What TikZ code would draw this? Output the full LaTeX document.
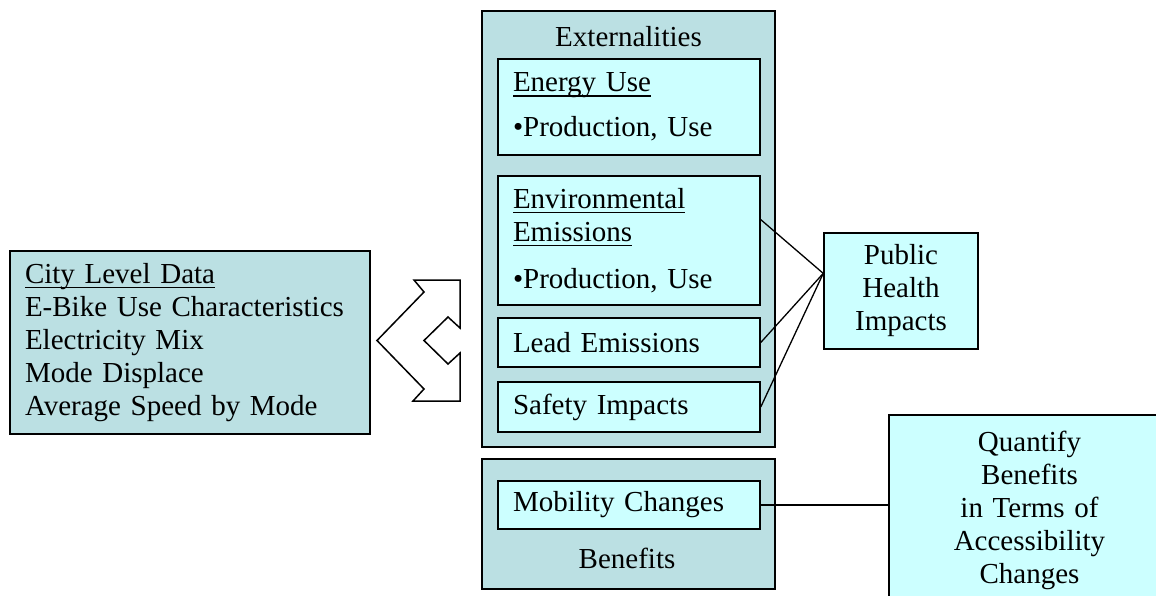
\documentclass[tikz,border=0pt]{standalone}
\usepackage{fontspec}
\setmainfont{Liberation Serif}
\usetikzlibrary{calc}
\definecolor{outerfill}{RGB}{187,224,227}
\definecolor{innerfill}{RGB}{204,255,255}
\newcommand{\ulabel}[1]{\leavevmode\setbox0\hbox{#1}\rlap{\rule[-5pt]{\wd0}{1.8pt}}\box0}

\begin{document}
\begin{tikzpicture}[x=1pt,y=-1pt,
    every node/.style={font=\fontsize{29}{33}\selectfont},
    outerbox/.style={draw=black,line width=1.5pt,fill=outerfill,inner sep=0pt},
    innerbox/.style={draw=black,line width=1.5pt,fill=innerfill,align=left,
        inner xsep=15pt,inner ysep=0pt,text width=232pt},
    link/.style={draw=black,line width=1.3pt}]
        \useasboundingbox (0,0) rectangle (1156,595);
        \clip (0,0) rectangle (1156,595);

        % input data
        \node[outerbox,align=left,inner xsep=15pt,text width=330pt,minimum height=183pt] (city) at (190,342.5)
            {\ulabel{City Level Data}\\E-Bike Use Characteristics\\Electricity Mix\\Mode Displace\\Average Speed by Mode};

        % double arrow
        \draw[line width=1.5pt,fill=white,line join=miter] (414,280) -- (460,280) -- (460,328) -- (448,317)
            -- (424,340.5) -- (448,364) -- (460,353) -- (460,401) -- (413,401) -- (424,389)
            -- (377,340.5) -- (424,292) -- cycle;

        % externalities
        \node[outerbox,minimum width=293pt,minimum height=436pt] (ext) at (628.5,229) {};
        \node (exttitle) at (628.5,37) {Externalities};
        \node[innerbox,minimum height=96pt] (energy) at (629,107)
            {\ulabel{Energy Use}\\[12pt]\textbullet Production, Use};
        \node[innerbox,minimum height=129pt] (env) at (629,240.5)
            {\ulabel{Environmental}\\\ulabel{Emissions}\\[14pt]\textbullet Production, Use};
        \node[innerbox,minimum height=49pt] (lead) at (629,342.5) {Lead Emissions};
        \node[innerbox,minimum height=50pt] (safety) at (629,407) {Safety Impacts};

        % benefits
        \node[outerbox,minimum width=293pt,minimum height=130pt] (ben) at (628.5,524) {};
        \node[innerbox,minimum height=48pt] (mob) at (629,505) {Mobility Changes};
        \node (bentitle) at (627,558) {Benefits};

        % outcomes
        \node[innerbox,align=center,text width=124pt,minimum height=116pt] (ph) at (901,291)
            {Public\\Health\\Impacts};
        \node[innerbox,align=center,text width=251pt,minimum height=190pt] (quant) at (1029.5,510)
            {Quantify\\Benefits\\in Terms of\\Accessibility\\Changes};

        \coordinate (phin) at ($(ph.north west)!0.35!(ph.south west)$);
        \coordinate (envout) at ($(env.north east)!0.34!(env.south east)$);
        \draw[link] (envout) -- (phin);
        \draw[link] (lead.east) -- (phin);
        \draw[link] (safety.east) -- (phin);
        \draw[link] (mob.east) -- (mob.east -| quant.west);
    \end{tikzpicture}
\end{document}
